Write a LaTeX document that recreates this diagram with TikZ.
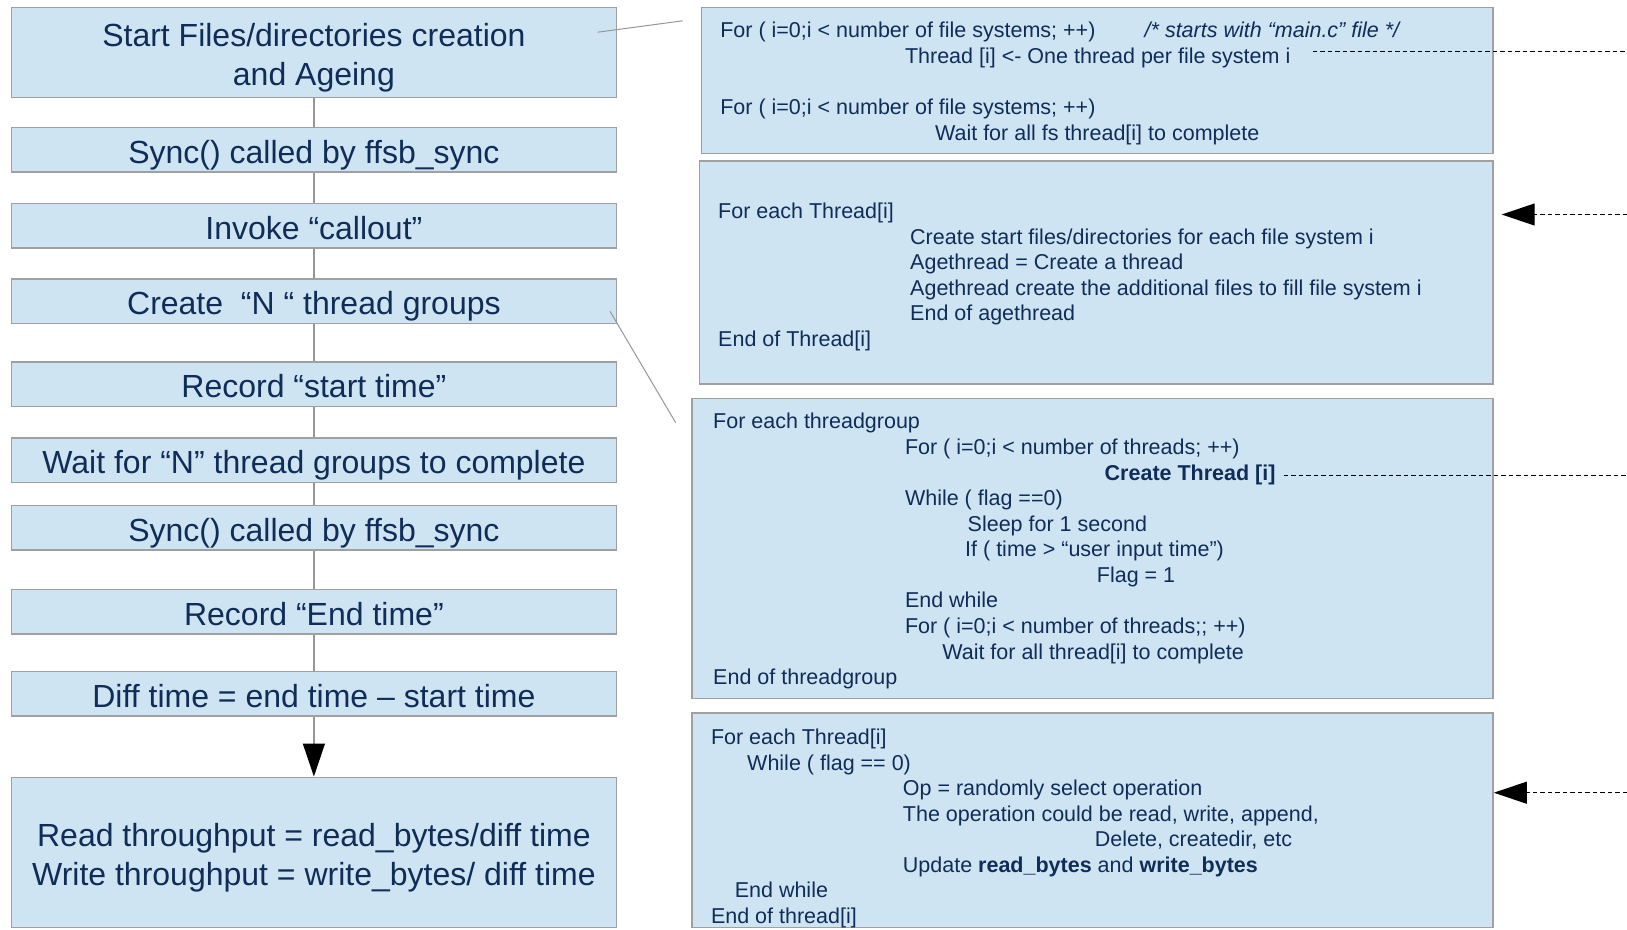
\documentclass[tikz,border=0pt]{standalone}
\usepackage{fontspec}
\setmainfont{Liberation Sans}
\usetikzlibrary{arrows.meta}
\definecolor{boxfill}{RGB}{207,228,242}
\definecolor{boxline}{RGB}{160,160,160}
\definecolor{txt}{RGB}{16,45,88}
\definecolor{conn}{RGB}{150,150,150}
\newcommand\bigf{\fontsize{32}{38.4}\selectfont}
\newcommand\smallf{\fontsize{21.5}{25.8}\selectfont}
\newcommand\twolines[2]{\raisebox{-6pt}[\height][\depth]{\begin{tabular}{@{}c@{}}#1\\#2\end{tabular}}}
\begin{document}
\begin{tikzpicture}[x=1pt,y=-1pt,
  lbox/.style={draw=boxline, fill=boxfill, line width=1.5pt, inner sep=0pt, text=txt, font=\bigf, align=center, minimum width=604.9pt},
  onebox/.style={lbox, minimum height=44.6pt, text height=30pt, text depth=3pt},
  rbox/.style={draw=boxline, fill=boxfill, line width=1.5pt, inner sep=0pt},
  code/.style={anchor=base west, inner sep=0pt, text=txt, font=\smallf},
  link/.style={draw=conn, line width=1.4pt},
  thin/.style={draw=conn, line width=1pt},
  dashlink/.style={draw=black, line width=1.1pt, dash pattern=on 4.5pt off 3pt},
  bigtip/.style={-{Triangle[length=33pt,width=22pt,color=black]}}]
\useasboundingbox (0,0) rectangle (1627,929);
% left column
\node[lbox, minimum height=90.2pt] (b1) at (313.9,52.4) {\twolines{Start Files/directories creation}{and Ageing}};
\node[onebox] (b2) at (313.9,149.9) {Sync() called by ffsb\_sync};
\node[onebox] (b3) at (313.9,225.7) {Invoke “callout”};
\node[onebox] (b4) at (313.9,301.4) {Create\ \ “N “ thread groups};
\node[onebox] (b5) at (313.9,384.4) {Record “start time”};
\node[onebox] (b6) at (313.9,460.2) {Wait for “N” thread groups to complete};
\node[onebox] (b7) at (313.9,527.6) {Sync() called by ffsb\_sync};
\node[onebox] (b8) at (313.9,611.7) {Record “End time”};
\node[onebox] (b9) at (313.9,693.6) {Diff time = end time – start time};
\node[lbox, minimum height=150.3pt] (b10) at (313.9,852.4) {\twolines{Read throughput = read\_bytes/diff time}{Write throughput = write\_bytes/ diff time}};
\draw[link] (b1) -- (b2);
\draw[link] (b2) -- (b3);
\draw[link] (b3) -- (b4);
\draw[link] (b4) -- (b5);
\draw[link] (b5) -- (b6);
\draw[link] (b6) -- (b7);
\draw[link] (b7) -- (b8);
\draw[link] (b8) -- (b9);
\draw[link, bigtip] (b9) -- (b10);
% right boxes
\node[rbox, minimum width=791.7pt, minimum height=146.3pt] (r1) at (1097.25,80.45) {};
\node[rbox, minimum width=793.8pt, minimum height=223.1pt] (r2) at (1096.2,272.35) {};
\node[rbox, minimum width=801.1pt, minimum height=299.9pt] (r3) at (1092.55,548.35) {};
\node[rbox, minimum width=801.1pt, minimum height=214.7pt] (r4) at (1092.55,820.15) {};
% box 1 text
\node[code] (t1a) at (720.1,37.6) {For ( i=0;i < number of file systems; ++)};
\node[code, font=\smallf\itshape] (t1b) at (1144.5,37.6) {/* starts with “main.c” file */};
\node[code] (t1c) at (904.8,63.2) {Thread [i] <- One thread per file system i};
\node[code] (t1d) at (720.1,114.4) {For ( i=0;i < number of file systems; ++)};
\node[code] (t1e) at (934.9,140.3) {Wait for all fs thread[i] to complete};
% box 2 text
\node[code] (t2a) at (718,218.6) {For each Thread[i]};
\node[code] (t2b) at (910,244.1) {Create start files/directories for each file system i};
\node[code] (t2c) at (910,269.6) {Agethread = Create a thread};
\node[code] (t2d) at (910,295.1) {Agethread create the additional files to fill file system i};
\node[code] (t2e) at (910,320.6) {End of agethread};
\node[code] (t2f) at (718,346.1) {End of Thread[i]};
% box 3 text
\node[code] (t3a) at (713,428.7) {For each threadgroup};
\node[code] (t3b) at (904.8,454.3) {For ( i=0;i < number of threads; ++)};
\node[code, font=\smallf\bfseries] (t3c) at (1104.5,480.4) {Create Thread [i]};
\node[code] (t3d) at (904.8,505.5) {While ( flag ==0)};
\node[code] (t3e) at (967.5,531.1) {Sleep for 1 second};
\node[code] (t3f) at (965,556.7) {If ( time > “user input time”)};
\node[code] (t3g) at (1096.7,582.3) {Flag = 1};
\node[code] (t3h) at (904.8,607.9) {End while};
\node[code] (t3i) at (904.8,633.5) {For ( i=0;i < number of threads;; ++)};
\node[code] (t3j) at (942.1,659.1) {Wait for all thread[i] to complete};
\node[code] (t3k) at (713,684.7) {End of threadgroup};
% box 4 text
\node[code] (t4a) at (710.8,744.7) {For each Thread[i]};
\node[code] (t4b) at (747,770.2) {While ( flag == 0)};
\node[code] (t4c) at (902.7,795.7) {Op = randomly select operation};
\node[code] (t4d) at (902.7,821.2) {The operation could be read, write, append,};
\node[code] (t4e) at (1094.7,846.7) {Delete, createdir, etc};
\node[code] (t4f) at (902.7,872.2) {Update \textbf{read\_bytes} and \textbf{write\_bytes}};
\node[code] (t4g) at (734.6,897.7) {End while};
\node[code] (t4h) at (710.8,923.2) {End of thread[i]};
% diagonal callout lines
\coordinate (d1s) at (597.7,32.2);
\coordinate (d1e) at (682.7,20.8);
\coordinate (d2s) at (610,311.3);
\coordinate (d2e) at (675.7,422.7);
\draw[thin] (d1s) -- (d1e);
\draw[thin] (d2s) -- (d2e);
% dashed lines and arrows
\coordinate (e1s) at (1312.6,51.9);
\coordinate (e1e) at (1627,51.9);
\coordinate (e2) at (1627,214.5);
\coordinate (e2t) at (1501.7,214.5);
\coordinate (e3s) at (1283.5,475.2);
\coordinate (e3e) at (1627,475.2);
\coordinate (e4) at (1627,792.7);
\draw[dashlink] (e1s) -- (e1e);
\draw[dashlink] (e3s) -- (e3e);
\draw[dashlink, bigtip] (e2) -- (e2t);
\draw[dashlink, bigtip] (e4) -- (r4.east |- e4);
\end{tikzpicture}
\end{document}
